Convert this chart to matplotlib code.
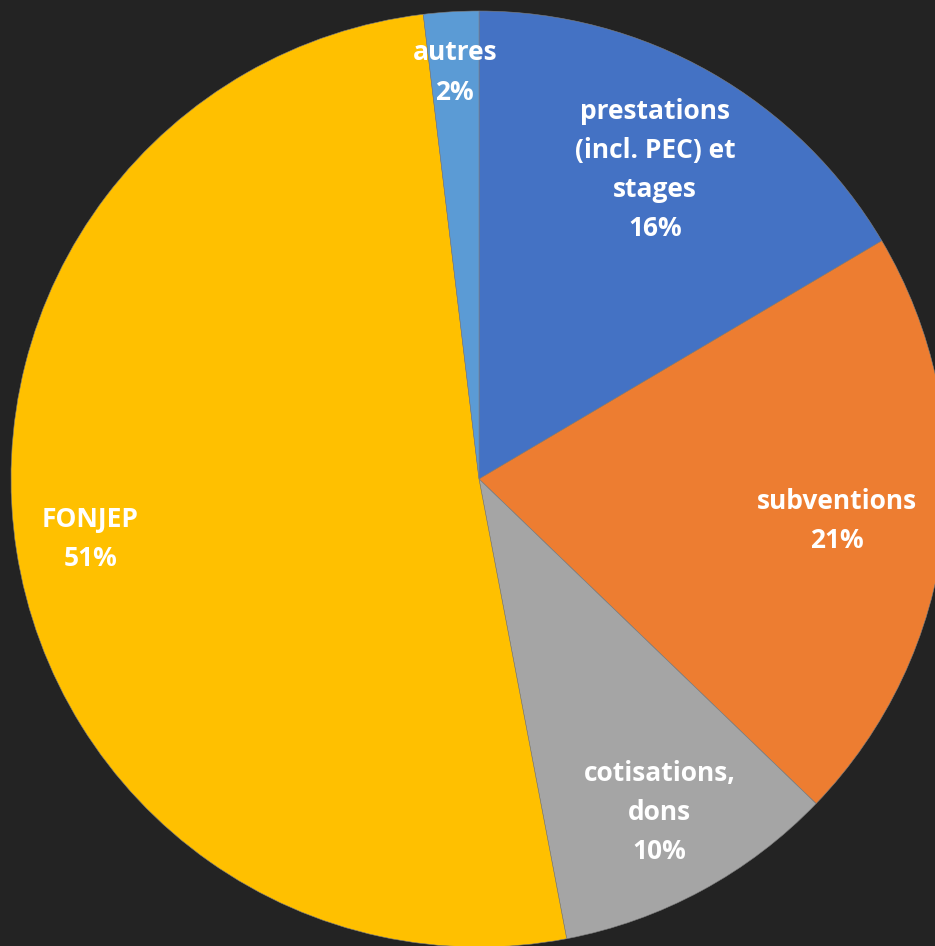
"""
Pie chart of income sources (dark background, Office-style palette).
"""

import numpy as np
import matplotlib.pyplot as plt

# --- Data ---
CATEGORIES = ['prestations\n(incl. PEC) et\nstages', 'subventions',
              'cotisations,\ndons', 'FONJEP', 'autres']
SHARES     = [16.5, 20.7, 9.8, 51.1, 1.9]   # percent
COLORS     = ['#4472C4', '#ED7D31', '#A5A5A5', '#FFC000', '#5B9BD5']

# --- Layout (pixels) ---
W, H   = 935, 946
CX, CY = 479, H - 479
R      = 468
LABEL_DIST = [0.76, 0.77, 0.81, 0.84, 0.87]
BG = '#232323'


def main():
    fig = plt.figure(figsize=(W / 100, H / 100), dpi=100, facecolor=BG)
    ax = fig.add_axes([0, 0, 1, 1])
    ax.set_facecolor(BG)

    wedges, _ = ax.pie(SHARES, colors=COLORS, startangle=90, counterclock=False,
                       center=(CX, CY), radius=R, frame=True,
                       wedgeprops=dict(edgecolor='#7f7f7f', linewidth=0.4))
    ax.set_xlim(0, W)
    ax.set_ylim(0, H)
    ax.set_aspect('equal')
    ax.axis('off')

    total = sum(SHARES)
    for w, cat, val, d in zip(wedges, CATEGORIES, SHARES, LABEL_DIST):
        mid = np.deg2rad((w.theta1 + w.theta2) / 2)
        x = CX + d * R * np.cos(mid)
        y = CY + d * R * np.sin(mid)
        ax.text(x, y, f'{cat}\n{round(val / total * 100):.0f}%',
                ha='center', va='center', color='white', fontsize=19,
                fontweight='bold', family=['Open Sans', 'DejaVu Sans'],
                linespacing=1.58)

    fig.savefig('out.png', dpi=100, facecolor=BG)


if __name__ == '__main__':
    main()
